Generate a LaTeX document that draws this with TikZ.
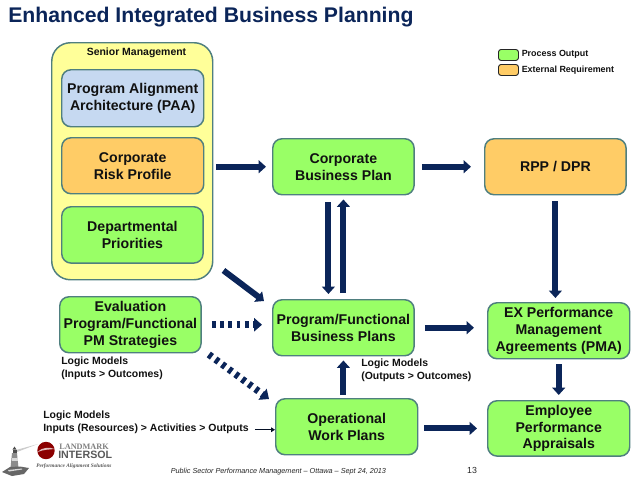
\documentclass[tikz,border=0pt]{standalone}
\usepackage{fontspec}
\setmainfont{Liberation Sans}
\newfontfamily\serifsub{Liberation Serif}
\usetikzlibrary{arrows.meta,calc}
\definecolor{navy}{HTML}{0B2559}
\definecolor{edgeC}{HTML}{4F7F7F}
\definecolor{greenC}{HTML}{99FF66}
\definecolor{orangeC}{HTML}{FFCC66}
\definecolor{yellowC}{HTML}{FFFF99}
\definecolor{blueC}{HTML}{C6D9F1}
\definecolor{inkC}{HTML}{111111}
\tikzset{
  box/.style={draw=edgeC,line width=1.1pt,rounded corners=7pt,align=center,inner sep=0pt,anchor=north west,
     font=\fontsize{10.6}{12.7}\selectfont\bfseries,text=inkC},
  greenbox/.style={box,fill=greenC},
  orangebox/.style={box,fill=orangeC},
  bluebox/.style={box,fill=blueC},
  lab/.style={align=left,inner sep=0pt,font=\fontsize{7.85}{9.75}\selectfont\bfseries,text=inkC},
  fat/.style={navy,line width=4.5pt,-{Triangle[length=5.5pt,width=9.5pt]}},
  fatdot/.style={navy,line width=5.2pt,dash pattern=on 2.9pt off 3.3pt,-{Triangle[length=6pt,width=10pt]}},
  thin/.style={navy!40!black,line width=0.9pt,-{Triangle[length=3pt,width=3.5pt]}},
  legendbox/.style={draw=black!85,line width=0.7pt,rounded corners=2pt,inner sep=0pt,anchor=north west},
}
\begin{document}
\begin{tikzpicture}[x=0.75pt,y=-0.75pt]
\useasboundingbox (0,0) rectangle (638,479);
\fill[white] (0,0) rectangle (638,479);
\node[anchor=west,inner sep=0pt,text=navy,font=\fontsize{15.9}{18}\selectfont\bfseries] (title) at (8,17) {Enhanced Integrated Business Planning};
% senior management
\node[draw=edgeC,line width=1.1pt,fill=yellowC,rounded corners=14pt,anchor=north west,inner sep=0pt,minimum width=120.75pt,minimum height=177.75pt] (sm) at (51,42) {};
\node[lab] (smlabel) at (136.5,52.5) {Senior Management};
\node[bluebox,minimum width=106.5pt,minimum height=42.75pt] (paa) at (61,69) {Program Alignment\\Architecture (PAA)};
\node[orangebox,minimum width=106.5pt,minimum height=42pt] (risk) at (61,137) {Corporate\\Risk Profile};
\node[greenbox,minimum width=106pt,minimum height=42.25pt] (dept) at (61,206) {Departmental\\Priorities};
\node[greenbox,minimum width=106pt,minimum height=42pt] (eval) at (59,296) {Evaluation\\Program/Functional\\PM Strategies};
\node[greenbox,minimum width=106pt,minimum height=42pt] (cbp) at (272,138) {Corporate\\Business Plan};
\node[orangebox,minimum width=106pt,minimum height=42pt] (rpp) at (484,138) {RPP / DPR};
\node[greenbox,minimum width=106pt,minimum height=42pt] (pf) at (272,299) {Program/Functional\\Business Plans};
\node[greenbox,minimum width=106.5pt,minimum height=42pt] (op) at (275,398) {Operational\\Work Plans};
\node[greenbox,minimum width=106.5pt,minimum height=42pt] (ex) at (487,302) {EX Performance\\Management\\Agreements (PMA)};
\node[greenbox,minimum width=106.5pt,minimum height=41.5pt] (emp) at (487,400) {Employee\\Performance\\Appraisals};
% legend
\node[legendbox,fill=greenC,minimum width=15pt,minimum height=8.25pt] (lg) at (498,49) {};
\node[legendbox,fill=orangeC,minimum width=15pt,minimum height=8.25pt] (lo) at (498,64) {};
\node[lab,anchor=west,font=\fontsize{6.7}{8}\selectfont\bfseries] (lgt) at (521.5,54) {Process Output};
\node[lab,anchor=west,font=\fontsize{6.7}{8}\selectfont\bfseries] (lot) at (521.5,70) {External Requirement};
% labels
\node[lab,anchor=north west] (l1) at (61,357) {Logic Models\\(Inputs > Outcomes)};
\node[lab,anchor=north west] (l2) at (361,359) {Logic Models\\(Outputs > Outcomes)};
\node[lab,anchor=north west] (l3) at (43,411) {Logic Models\\Inputs (Resources) > Activities > Outputs};
% arrows
\draw[fat,shorten <=9pt,shorten >=4.5pt] (risk.east |- cbp.west) -- (cbp.west);
\draw[fat,shorten <=5.25pt,shorten >=9.75pt] (cbp.east) -- (rpp.west);
\draw[fat,shorten <=4.5pt,shorten >=3pt] (rpp.south) -- (rpp.south |- ex.north);
\draw[fat,shorten <=5pt,shorten >=3.75pt] ([xshift=-11.25pt]cbp.south) -- ([xshift=-11.25pt]pf.north);
\draw[fat,shorten <=4.5pt,shorten >=3pt] (pf.north) -- (cbp.south);
\draw[fat,shorten <=2.25pt,shorten >=3pt] (op.north -| pf.north) -- (pf.south);
\draw[fat,shorten <=7.5pt,shorten >=9.75pt] (pf.east) -- (pf.east -| ex.west);
\draw[fat,shorten <=4.5pt,shorten >=7.5pt] (op.east |- emp.west) -- (emp.west);
\draw[fat,shorten <=3.75pt,shorten >=3.75pt] (ex.south) -- (emp.north);
\draw[fat] ([shift={(10,-10)}]sm.south east) -- ([shift={(-8,2)}]pf.north west);
\draw[fatdot,shorten <=7.5pt,shorten >=7.5pt] (eval.east) -- (eval.east -| pf.west);
\draw[fatdot] ([shift={(7,1)}]eval.south east) -- ([shift={(-6,1)}]op.north west);
\draw[thin] ([shift={(6,3)}]l3.east |- op.west) -- ([yshift=-2.25pt]op.west);
% footer
\node[anchor=west,inner sep=0pt,text=black!85,font=\fontsize{5.45}{7}\selectfont\itshape] (foot) at (170.5,471.5) {Public Sector Performance Management -- Ottawa -- Sept 24, 2013};
\node[anchor=center,inner sep=0pt,text=black!85,font=\fontsize{6.6}{8}\selectfont] (page) at (472,470) {13};
% logo
\fill[red!55!black] (46,450.5) circle (8.7);
\fill[white,opacity=.75] (37.5,452) .. controls (42,447) and (50,447) .. (54.5,449) .. controls (50,449.5) and (43,449.5) .. (37.5,452) -- cycle;
\node[anchor=west,inner sep=0pt,text=black!50,font=\serifsub\fontsize{6.2}{7}\selectfont\bfseries] (lm1) at (59,447) {LANDMARK};
\node[anchor=west,inner sep=0pt,text=black!65,font=\fontsize{8}{9}\selectfont\bfseries] (lm2) at (58,455) {INTERSOL};
\node[anchor=west,inner sep=0pt,text=black!65,font=\serifsub\fontsize{4}{5}\selectfont\itshape\bfseries] (lm3) at (36,466.5) {Performance Alignment Solutions};
\fill[black!20] (16,450) -- (38,444) -- (17,452) -- cycle;
\fill[black!45] (12,453) -- (17,453) -- (18.5,468) -- (10.5,468) -- cycle;
\fill[black!15] (11.5,458) rectangle (17.8,461);
\fill[black!70] (12.5,449.5) rectangle (16.5,453);
\fill[black!70] (14.5,446.5) -- (16.5,449.5) -- (12.5,449.5) -- cycle;
\fill[black!60] (2,472) -- (10,467) -- (20,466.5) -- (29,468) -- (24,474) -- (12,476) -- cycle;
\fill[black!15] (8,470) -- (22,468.5) -- (22,469.5) -- (9,471.5) -- cycle;
\end{tikzpicture}
\end{document}
